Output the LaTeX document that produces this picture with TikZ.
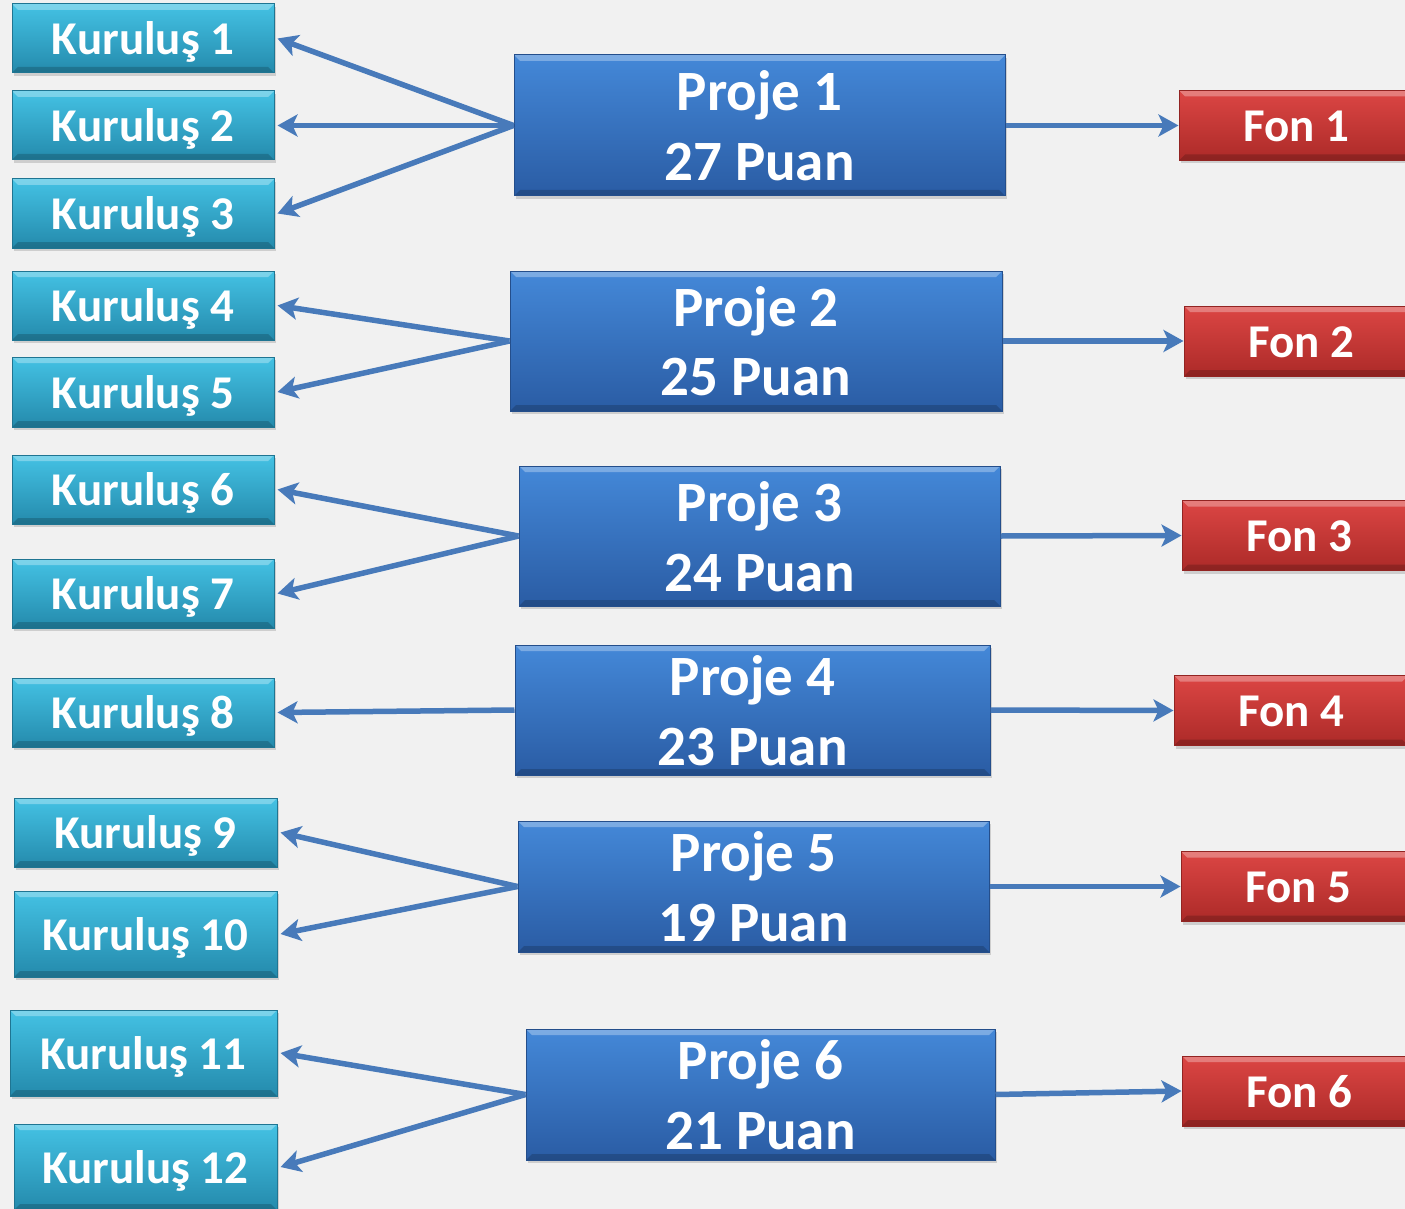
\documentclass[tikz,border=0pt]{standalone}
\usepackage{fontspec}
\setmainfont{Carlito}
\usetikzlibrary{arrows.meta,shadows}
\definecolor{kurtop}{RGB}{68,194,228}
\definecolor{kurbot}{RGB}{36,138,172}
\definecolor{projtop}{RGB}{68,136,216}
\definecolor{projbot}{RGB}{42,92,164}
\definecolor{fontop}{RGB}{220,70,68}
\definecolor{fonbot}{RGB}{172,42,40}
\definecolor{linkblue}{RGB}{72,122,186}
\definecolor{bggray}{RGB}{241,241,241}

\tikzset{
  box/.style={rectangle, inner sep=0pt, text=white, line width=1pt,
    drop shadow={shadow xshift=2pt, shadow yshift=-3pt, opacity=.3},
    path picture={
      \fill[white, opacity=.3] (path picture bounding box.north west)
        -- (path picture bounding box.north east)
        -- ([xshift=-6pt,yshift=-6pt]path picture bounding box.north east)
        -- ([xshift=6pt,yshift=-6pt]path picture bounding box.north west) -- cycle;
      \fill[black, opacity=.18] (path picture bounding box.south west)
        -- (path picture bounding box.south east)
        -- ([xshift=-6pt,yshift=6pt]path picture bounding box.south east)
        -- ([xshift=6pt,yshift=6pt]path picture bounding box.south west) -- cycle;
    }},
  kurbox/.style={box, top color=kurtop, bottom color=kurbot, draw=kurbot!85!black,
    text height=32pt, text depth=-8pt, font=\bfseries\fontsize{47}{56}\selectfont},
  projbox/.style={box, top color=projtop, bottom color=projbot, draw=projbot!85!black,
    align=center, text depth=-4pt, font=\bfseries\fontsize{57}{70}\selectfont},
  fonbox/.style={box, top color=fontop, bottom color=fonbot, draw=fonbot!85!black,
    minimum width=234pt, minimum height=70pt, text height=32pt, text depth=-8pt,
    font=\bfseries\fontsize{47}{56}\selectfont},
  link/.style={draw=linkblue, line width=5.5pt, -{Stealth[length=20pt,width=22pt,inset=5pt]}}
}

\begin{document}
\begin{tikzpicture}[x=1pt,y=-1pt]
  \fill[bggray] (0,0) rectangle (1405,1209);
  \useasboundingbox (0,0) rectangle (1405,1209);

  % kurulus boxes
  \foreach \i/\x/\y/\w/\h in {1/143/38.5/262/69, 2/143/125.5/262/69, 3/143/213.5/262/69,
      4/143/305.5/262/69, 5/143/392/262/70, 6/143/489.5/262/69, 7/143/593.5/262/69,
      8/143/712.5/262/69, 9/145.5/832.5/263/69, 10/145.5/934/263/86,
      11/143.5/1053/267/86, 12/145.5/1167/263/86}
    \node[kurbox, minimum width=\w pt, minimum height=\h pt] (k\i) at (\x,\y) {Kuruluş \i};

  % projects
  \foreach \i/\x/\y/\w/\h/\p in {1/759.5/125.5/491/141/27, 2/756/341/492/140/25,
      3/759.5/536/481/140/24, 4/752.5/710/475/130/23, 5/753.5/886.5/471/131/19,
      6/760.5/1094.5/469/131/21}
    \node[projbox, minimum width=\w pt, minimum height=\h pt] (p\i) at (\x,\y) {Proje \i\\\p{} Puan};

  % funds
  \foreach \i/\x/\y in {1/1296/125.5, 2/1301/341, 3/1299/535.5, 4/1291/710.5,
      5/1298/886.5, 6/1299/1091}
    \node[fonbox] (f\i) at (\x,\y) {Fon \i};

  % links
  \foreach \p/\k in {1/1, 1/2, 1/3, 2/4, 2/5, 3/6, 3/7, 4/8, 5/9, 5/10, 6/11, 6/12}
    \draw[link] (p\p.west) -- ([xshift=3pt]k\k.east);
  \foreach \i in {1,...,6}
    \draw[link] (p\i.east) -- (f\i.west);
\end{tikzpicture}
\end{document}
